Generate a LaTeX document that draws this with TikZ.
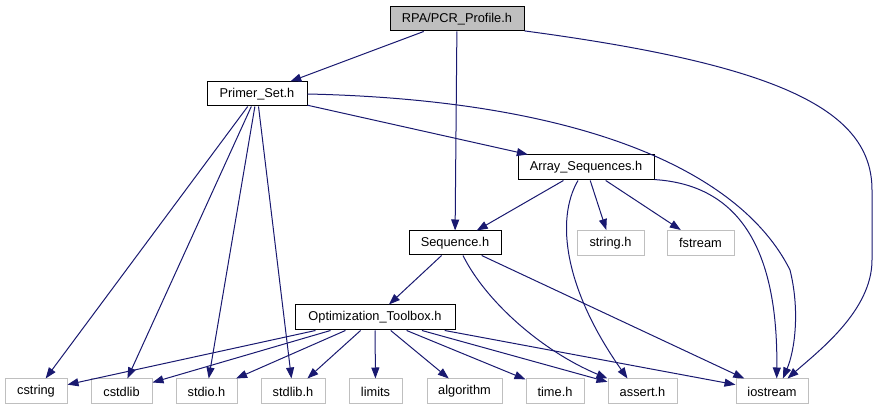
\documentclass[tikz,border=0pt]{standalone}
\usepackage{fontspec}
\setmainfont{Liberation Sans}
\usetikzlibrary{arrows.meta}
\definecolor{edgeblue}{HTML}{191970}
\definecolor{boxgray}{HTML}{BFBFBF}

\begin{document}
\begin{tikzpicture}[x=1pt,y=-1pt,line width=1pt,>={Triangle[length=11pt,width=8pt]},
  hdr/.style={draw=black,inner sep=0pt,minimum height=25pt,font=\fontsize{12.8}{14}\selectfont},
  ext/.style={hdr,draw=boxgray},
  cur/.style={hdr,fill=boxgray},
  dep/.style={->,edgeblue,line width=1pt}]
\useasboundingbox (0,0) rectangle (879,411);
% ---------- 项目头文件 ----------
\node[cur,minimum width=134,minimum height=24] (root) at (457,19) {RPA/PCR\_Profile.h};
\node[hdr,minimum width=100,minimum height=24] (ps)   at (257,94) {Primer\_Set.h};
\node[hdr,minimum width=136] (as)   at (586,167.5) {Array\_Sequences.h};
\node[hdr,minimum width=92,minimum height=24]  (seq)  at (455,243) {Sequence.h};
\node[hdr,minimum width=160] (opt)  at (375,317.5) {Optimization\_Toolbox.h};
% ---------- 系统头文件 ----------
\node[ext,minimum width=67] (strh) at (610.5,243) {string.h};
\node[ext,minimum width=67] (fst)  at (700.5,243) {fstream};
% 底行 y = 391.5
\foreach \n/\x/\w/\t in {cstr/36/62/cstring, cstdl/121.5/61/cstdlib, stdio/206.5/61/stdio.h,
                         stdl/293/64/stdlib.h, lim/375.5/53/limits, alg/464.5/75/algorithm,
                         tim/555/58/time.h, ass/642.5/69/assert.h, ios/772/72/iostream}
  \node[ext,minimum width=\w] (\n) at (\x,391.5) {\t};
% ---------- 直线依赖 ----------
\foreach \a/\b in {root/ps, root/seq,
                   ps/cstr, ps/cstdl, ps/stdio, ps/stdl, ps/as,
                   as/seq, as/strh, as/fst,
                   seq/opt, seq/ios,
                   opt/cstr, opt/cstdl, opt/stdio, opt/stdl, opt/lim, opt/alg,
                   opt/tim, opt/ass, opt/ios}
  \draw[dep] (\a) -- (\b);
% ---------- 曲线依赖 ----------
\draw[dep] (root.-10) .. controls (780,65) and (872,110) .. (872,190)
      -- (872,260) .. controls (872,310) and (820,350) .. (ios.40);
\draw[dep] (ps.east) .. controls (580,100) and (740,170) .. (790,270)
      .. controls (800,310) and (795,350) .. (ios.50);
\draw[dep] (as.-10) .. controls (740,185) and (778,250) .. (ios.70);
\draw[dep] ([xshift=-8pt]as.south) .. controls (555,220) and (565,290) .. ([xshift=-15pt]ass.north);
\draw[dep] ([xshift=8pt]seq.south) .. controls (485,300) and (540,350) .. (ass.north west);
\end{tikzpicture}
\end{document}
